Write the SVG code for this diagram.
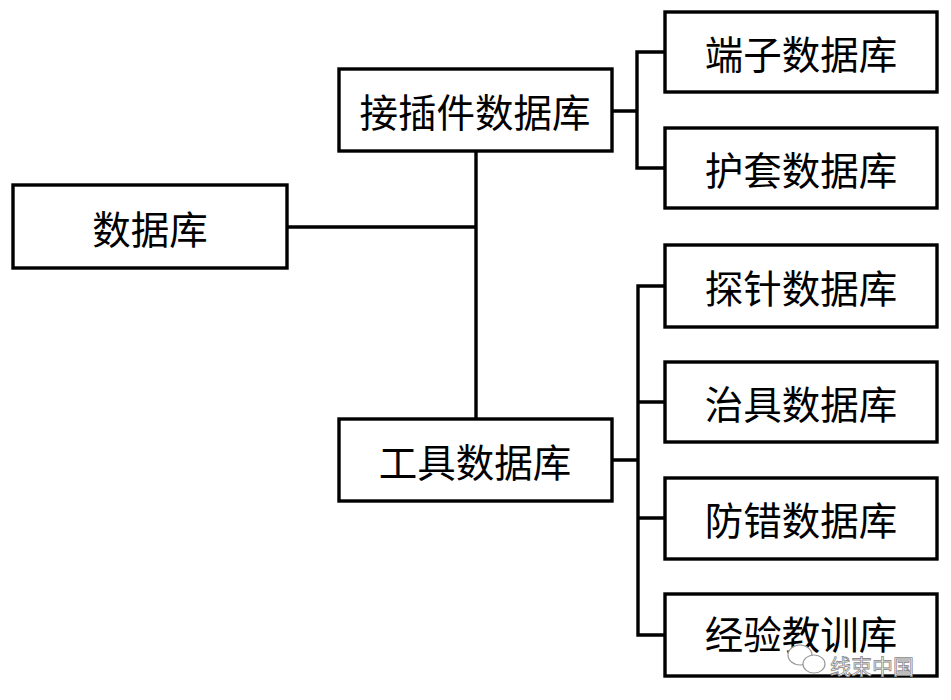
<svg xmlns="http://www.w3.org/2000/svg" width="951" height="700" viewBox="0 0 951 700">
<style>
.box{fill:#fff;stroke:#000;stroke-width:3.4}
.t{font-family:"Microsoft YaHei","Noto Sans CJK SC",sans-serif;font-size:38.5px;fill:#000;text-anchor:middle;dominant-baseline:central}
.c{fill:none;stroke:#000;stroke-width:3.4}
.wm{font-family:"Noto Sans CJK SC",sans-serif;font-size:21px;fill:#fff;stroke:#888;stroke-width:0.8}
</style>
<rect width="951" height="700" fill="#fff"/>
<g id="connectors">
<path class="c" d="M287 227H476M476 151V419"/>
<path class="c" d="M612 111H637M665 52H637V168H665"/>
<path class="c" d="M612 460H638M665 286H638V635H665M638 402H665M638 518H665"/>
</g>
<g id="n_root"><rect class="box" x="13" y="185" width="274" height="83"/><text class="t" x="150" y="227">数据库</text></g>
<g id="n_conn"><rect class="box" x="339" y="69" width="273" height="82"/><text class="t" x="475" y="110">接插件数据库</text></g>
<g id="n_tool"><rect class="box" x="339" y="419" width="273" height="82"/><text class="t" x="475" y="460">工具数据库</text></g>
<g id="n_term"><rect class="box" x="665" y="12" width="272" height="80"/><text class="t" x="801" y="52">端子数据库</text></g>
<g id="n_sheath"><rect class="box" x="665" y="128" width="272" height="80"/><text class="t" x="801" y="168">护套数据库</text></g>
<g id="n_probe"><rect class="box" x="665" y="245" width="272" height="82"/><text class="t" x="801" y="286">探针数据库</text></g>
<g id="n_jig"><rect class="box" x="665" y="362" width="272" height="80"/><text class="t" x="801" y="402">治具数据库</text></g>
<g id="n_err"><rect class="box" x="665" y="478" width="272" height="81"/><text class="t" x="801" y="518">防错数据库</text></g>
<g id="n_exp"><rect class="box" x="665" y="594" width="272" height="82"/><text class="t" x="801" y="632">经验教训库</text></g>
<g id="watermark">
<ellipse cx="800" cy="655" rx="12" ry="10" fill="#fff" stroke="#999" stroke-width="1.2"/>
<ellipse cx="814" cy="664" rx="11" ry="9" fill="#fff" stroke="#999" stroke-width="1.2"/>
<text class="wm" x="830" y="674">线束中国</text>
</g>
</svg>
